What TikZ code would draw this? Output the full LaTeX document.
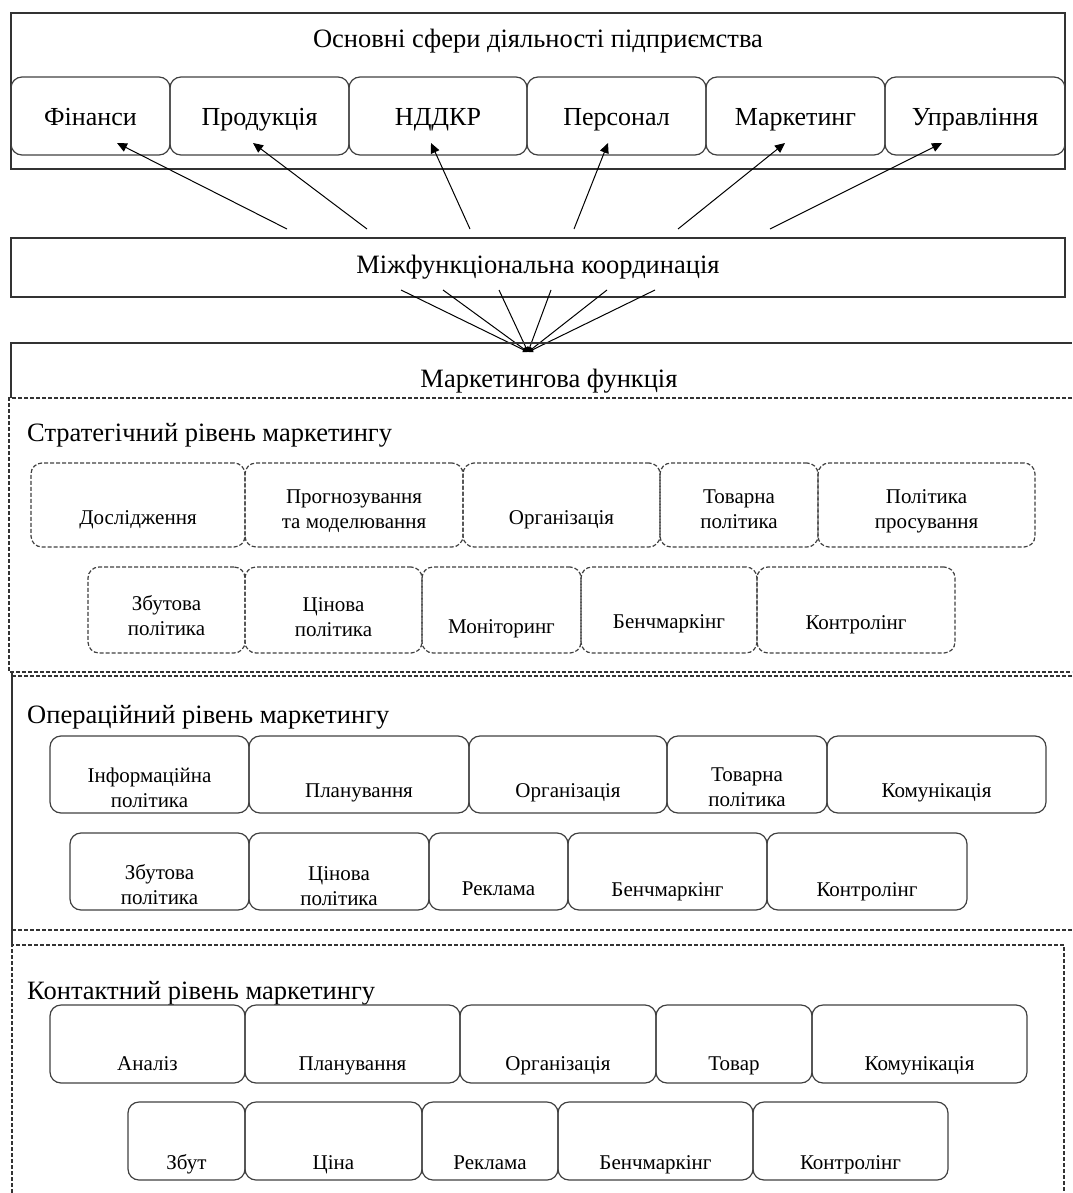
\documentclass[tikz,border=0pt]{standalone}
\usepackage{fontspec}
\setmainfont{Liberation Serif}
\usetikzlibrary{arrows.meta,calc,positioning}

\tikzset{
  frame/.style={draw=black!80, line width=1.3pt, inner sep=0pt},
  cell/.style={draw=black!75, line width=1.2pt, rounded corners=11pt, inner sep=0pt},
  dcell/.style={cell, dash pattern=on 4pt off 2pt},
  dline/.style={draw=black!80, line width=1.1pt, dash pattern=on 4pt off 2pt},
  lab/.style={font=\fontsize{21}{25}\selectfont, align=center, inner sep=0pt,
    execute at begin node=\strut, execute at end node=\strut, yshift=-2.5pt},
  toplab/.style={font=\fontsize{26}{30}\selectfont, inner sep=0pt,
    execute at begin node=\strut},
  ttl/.style={font=\fontsize{26.5}{30}\selectfont, inner sep=0pt,
    execute at begin node=\strut},
  arr/.style={-{Triangle[length=10pt,width=9pt]}, line width=1pt},
  fan/.style={-{Triangle[length=5pt,width=5pt]}, line width=1pt}
}

\begin{document}
\begin{tikzpicture}[x=1pt, y=-1pt]
\useasboundingbox (0,0) rectangle (1072,1193);
% Основні сфери діяльності
\node[frame, minimum width=1054pt, minimum height=156pt] (sfery) at (538,91) {};
\node[ttl] (sfery-t) at (538,42) {Основні сфери діяльності підприємства};
\foreach \xa/\xb/\nm/\lab in {11/170/fin/Фінанси, 170/349/prod/Продукція, 349/527/nd/НДДКР,
    527/706/pers/Персонал, 706/885/mkt/Маркетинг, 885/1065/upr/Управління}{
  \pgfmathsetmacro\w{\xb-\xa}
  \node[cell, minimum width=\w pt, minimum height=78pt] (\nm) at ({(\xa+\xb)/2},116) {};
  \node[toplab] (\nm-t) at ([yshift=-4pt]\nm.center) {\lab};
}
% Міжфункціональна координація
\node[frame, minimum width=1054pt, minimum height=59pt] (koord) at (538,267.5) {};
\node[ttl] (koord-t) at (538,267) {Міжфункціональна координація};
\foreach \i/\x in {1/287, 2/367, 3/470, 4/574, 5/678, 6/770}{
  \coordinate (k\i) at (\x,229);
}
\foreach \s/\t/\dx in {k1/fin/26.5, k2/prod/-6.5, k3/nd/-7, k4/pers/-8.5, k5/mkt/-10.5, k6/upr/-33}{
  \draw[arr] (\s) -- ([xshift=\dx pt, yshift=-27pt]\t.center);
}
% до маркетингової функції
\coordinate (fanend) at (528,352);
\foreach \i/\x in {1/401, 2/443, 3/499, 4/551, 5/607, 6/655}{
  \coordinate (f\i) at (\x,290);
  \draw[fan] (f\i) -- (fanend);
}
% Маркетингова функція
\draw[draw=black!80, line width=1.3pt] (11,398) -- (11,343) -- (1072,343);
\node[ttl] (mfunc-t) at (549,381) {Маркетингова функція};
% рівні
\draw[dline] (1072,398) -- (9,398) -- (9,672) -- (1072,672);
\draw[dline] (12,676) -- (1072,676);
\draw[draw=black!80, line width=1.1pt] (12,672) -- (12,945);
\draw[dline] (12,930) -- (1072,930);
\draw[dline] (12,1193) -- (12,945) -- (1064,945) -- (1064,1193);
\node[ttl, anchor=west] (strat-t) at (27,435) {Стратегічний рівень маркетингу};
\node[ttl, anchor=west] (oper-t) at (27,717) {Операційний рівень маркетингу};
\node[ttl, anchor=west] (kont-t) at (27,993) {Контактний рівень маркетингу};
% Стратегічний рівень
\foreach \xa/\xb/\nm/\dy/\lab in {31/245/s1/12/Дослідження, 245/463/s2/5/{Прогнозування\\та моделювання},
    463/660/s3/12/Організація, 660/818/s4/5/{Товарна\\політика}, 818/1035/s5/5/{Політика\\просування}}{
  \pgfmathsetmacro\w{\xb-\xa}
  \node[dcell, minimum width=\w pt, minimum height=84pt] (\nm) at ({(\xa+\xb)/2},505) {};
  \node[lab] (\nm-t) at ([yshift=-\dy pt]\nm.center) {\lab};
}
\foreach \xa/\xb/\nm/\dy/\lab in {88/245/s6/7/{Збутова\\політика}, 245/422/s7/8/{Цінова\\політика},
    422/581/s8/16/Моніторинг, 581/757/s9/11/Бенчмаркінг, 757/955/s10/12/Контролінг}{
  \pgfmathsetmacro\w{\xb-\xa}
  \node[dcell, minimum width=\w pt, minimum height=86pt] (\nm) at ({(\xa+\xb)/2},610) {};
  \node[lab] (\nm-t) at ([yshift=-\dy pt]\nm.center) {\lab};
}
% Операційний рівень
\foreach \xa/\xb/\nm/\dy/\lab in {50/249/o1/14/{Інформаційна\\політика}, 249/469/o2/15/Планування,
    469/667/o3/15/Організація, 667/827/o4/14/{Товарна\\політика}, 827/1046/o5/15/Комунікація}{
  \pgfmathsetmacro\w{\xb-\xa}
  \node[cell, minimum width=\w pt, minimum height=77pt] (\nm) at ({(\xa+\xb)/2},774.5) {};
  \node[lab] (\nm-t) at ([yshift=-\dy pt]\nm.center) {\lab};
}
\foreach \xa/\xb/\nm/\dy/\lab in {70/249/o6/14/{Збутова\\політика}, 249/429/o7/16/{Цінова\\політика},
    429/568/o8/16/Реклама, 568/767/o9/17/Бенчмаркінг, 767/967/o10/17/Контролінг}{
  \pgfmathsetmacro\w{\xb-\xa}
  \node[cell, minimum width=\w pt, minimum height=77pt] (\nm) at ({(\xa+\xb)/2},871.5) {};
  \node[lab] (\nm-t) at ([yshift=-\dy pt]\nm.center) {\lab};
}
% Контактний рівень
\foreach \xa/\xb/\nm/\lab in {50/245/c1/Аналіз, 245/460/c2/Планування, 460/656/c3/Організація,
    656/812/c4/Товар, 812/1027/c5/Комунікація}{
  \pgfmathsetmacro\w{\xb-\xa}
  \node[cell, minimum width=\w pt, minimum height=78pt] (\nm) at ({(\xa+\xb)/2},1044) {};
  \node[lab] (\nm-t) at ([yshift=-19pt]\nm.center) {\lab};
}
\foreach \xa/\xb/\nm/\lab in {128/245/c6/Збут, 245/422/c7/Ціна, 422/558/c8/Реклама,
    558/753/c9/Бенчмаркінг, 753/948/c10/Контролінг}{
  \pgfmathsetmacro\w{\xb-\xa}
  \node[cell, minimum width=\w pt, minimum height=78pt] (\nm) at ({(\xa+\xb)/2},1141) {};
  \node[lab] (\nm-t) at ([yshift=-21pt]\nm.center) {\lab};
}
\end{tikzpicture}
\end{document}
